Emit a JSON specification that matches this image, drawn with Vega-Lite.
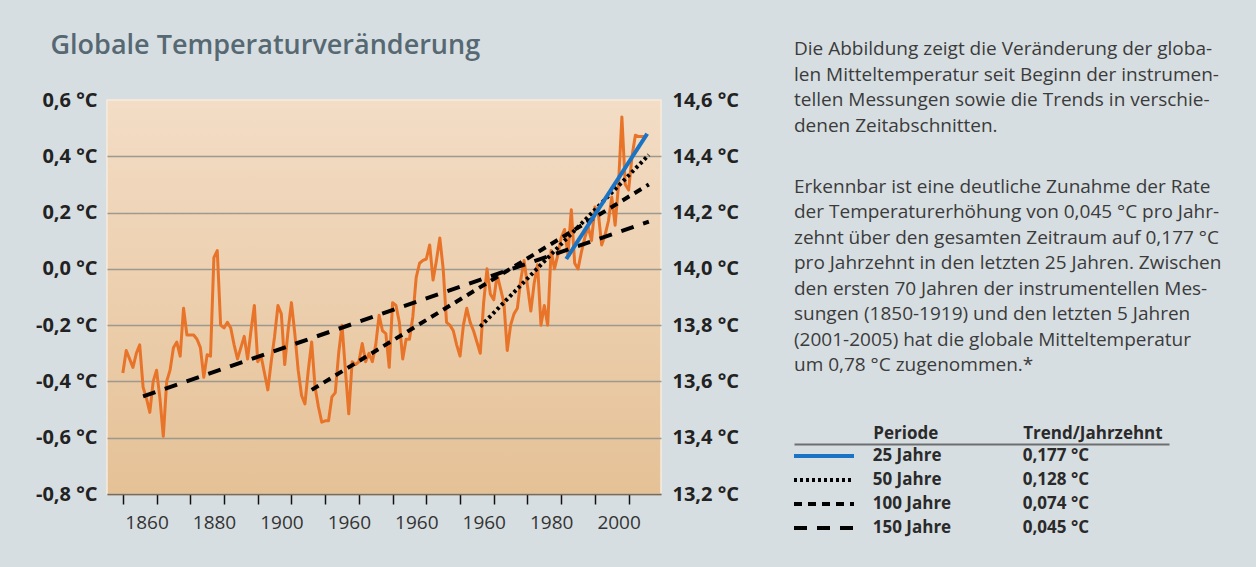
{
  "$schema": "https://vega.github.io/schema/vega-lite/v6.json",
  "background": "#d7dee2",
  "padding": {"left": 34, "top": 31, "right": 92, "bottom": 29},
  "config": {"font": "Open Sans", "view": {"stroke": null}},
  "datasets": {
    "temp": [
      {"year":1850,"value":-0.37},{"year":1851,"value":-0.29},{"year":1852,"value":-0.32},{"year":1853,"value":-0.35},{"year":1854,"value":-0.30},
      {"year":1855,"value":-0.27},{"year":1856,"value":-0.42},{"year":1857,"value":-0.46},{"year":1858,"value":-0.51},{"year":1859,"value":-0.40},
      {"year":1860,"value":-0.36},{"year":1861,"value":-0.46},{"year":1862,"value":-0.595},{"year":1863,"value":-0.40},{"year":1864,"value":-0.36},
      {"year":1865,"value":-0.28},{"year":1866,"value":-0.26},{"year":1867,"value":-0.31},{"year":1868,"value":-0.14},{"year":1869,"value":-0.235},
      {"year":1870,"value":-0.235},{"year":1871,"value":-0.235},{"year":1872,"value":-0.25},{"year":1873,"value":-0.28},{"year":1874,"value":-0.385},
      {"year":1875,"value":-0.305},{"year":1876,"value":-0.31},{"year":1877,"value":0.04},{"year":1878,"value":0.065},{"year":1879,"value":-0.20},
      {"year":1880,"value":-0.21},{"year":1881,"value":-0.19},{"year":1882,"value":-0.21},{"year":1883,"value":-0.27},{"year":1884,"value":-0.32},
      {"year":1885,"value":-0.28},{"year":1886,"value":-0.24},{"year":1887,"value":-0.32},{"year":1888,"value":-0.22},{"year":1889,"value":-0.13},
      {"year":1890,"value":-0.33},{"year":1891,"value":-0.31},{"year":1892,"value":-0.37},{"year":1893,"value":-0.43},{"year":1894,"value":-0.33},
      {"year":1895,"value":-0.24},{"year":1896,"value":-0.13},{"year":1897,"value":-0.16},{"year":1898,"value":-0.34},{"year":1899,"value":-0.22},
      {"year":1900,"value":-0.12},{"year":1901,"value":-0.23},{"year":1902,"value":-0.36},{"year":1903,"value":-0.45},{"year":1904,"value":-0.48},
      {"year":1905,"value":-0.36},{"year":1906,"value":-0.26},{"year":1907,"value":-0.42},{"year":1908,"value":-0.49},{"year":1909,"value":-0.545},
      {"year":1910,"value":-0.54},{"year":1911,"value":-0.54},{"year":1912,"value":-0.455},{"year":1913,"value":-0.44},{"year":1914,"value":-0.30},
      {"year":1915,"value":-0.20},{"year":1916,"value":-0.36},{"year":1917,"value":-0.515},{"year":1918,"value":-0.33},{"year":1919,"value":-0.34},
      {"year":1920,"value":-0.33},{"year":1921,"value":-0.265},{"year":1922,"value":-0.33},{"year":1923,"value":-0.30},{"year":1924,"value":-0.33},
      {"year":1925,"value":-0.27},{"year":1926,"value":-0.165},{"year":1927,"value":-0.22},{"year":1928,"value":-0.23},{"year":1929,"value":-0.35},
      {"year":1930,"value":-0.12},{"year":1931,"value":-0.13},{"year":1932,"value":-0.19},{"year":1933,"value":-0.32},{"year":1934,"value":-0.25},
      {"year":1935,"value":-0.25},{"year":1936,"value":-0.17},{"year":1937,"value":-0.03},{"year":1938,"value":0.02},{"year":1939,"value":0.03},
      {"year":1940,"value":0.035},{"year":1941,"value":0.085},{"year":1942,"value":-0.04},{"year":1943,"value":0.03},{"year":1944,"value":0.11},
      {"year":1945,"value":0.00},{"year":1946,"value":-0.19},{"year":1947,"value":-0.20},{"year":1948,"value":-0.22},{"year":1949,"value":-0.27},
      {"year":1950,"value":-0.31},{"year":1951,"value":-0.20},{"year":1952,"value":-0.14},{"year":1953,"value":-0.19},{"year":1954,"value":-0.22},
      {"year":1955,"value":-0.26},{"year":1956,"value":-0.30},{"year":1957,"value":-0.12},{"year":1958,"value":0.00},{"year":1959,"value":-0.09},
      {"year":1960,"value":-0.11},{"year":1961,"value":-0.02},{"year":1962,"value":-0.07},{"year":1963,"value":-0.12},{"year":1964,"value":-0.29},
      {"year":1965,"value":-0.20},{"year":1966,"value":-0.16},{"year":1967,"value":-0.14},{"year":1968,"value":-0.04},{"year":1969,"value":0.03},
      {"year":1970,"value":-0.06},{"year":1971,"value":-0.15},{"year":1972,"value":-0.05},{"year":1973,"value":0.015},{"year":1974,"value":-0.20},
      {"year":1975,"value":-0.13},{"year":1976,"value":-0.20},{"year":1977,"value":0.065},{"year":1978,"value":0.00},{"year":1979,"value":0.05},
      {"year":1980,"value":0.11},{"year":1981,"value":0.14},{"year":1982,"value":0.05},{"year":1983,"value":0.21},{"year":1984,"value":0.02},
      {"year":1985,"value":0.00},{"year":1986,"value":0.06},{"year":1987,"value":0.11},{"year":1988,"value":0.15},{"year":1989,"value":0.10},
      {"year":1990,"value":0.22},{"year":1991,"value":0.20},{"year":1992,"value":0.085},{"year":1993,"value":0.12},{"year":1994,"value":0.17},
      {"year":1995,"value":0.255},{"year":1996,"value":0.155},{"year":1997,"value":0.30},{"year":1998,"value":0.54},{"year":1999,"value":0.30},
      {"year":2000,"value":0.28},{"year":2001,"value":0.40},{"year":2002,"value":0.475},{"year":2003,"value":0.47},{"year":2004,"value":0.47},
      {"year":2005,"value":0.47}
    ],
    "trends": [
      {"periode":"150 Jahre","year":1856,"value":-0.453},{"periode":"150 Jahre","year":2006,"value":0.168},
      {"periode":"100 Jahre","year":1906,"value":-0.43},{"periode":"100 Jahre","year":2006,"value":0.30},
      {"periode":"50 Jahre","year":1956,"value":-0.205},{"periode":"50 Jahre","year":2006,"value":0.405},
      {"periode":"25 Jahre","year":1981.5,"value":0.035},{"periode":"25 Jahre","year":2005.5,"value":0.48}
    ],
    "legend": [
      {"periode":"25 Jahre","trend":"0,177 °C"},
      {"periode":"50 Jahre","trend":"0,128 °C"},
      {"periode":"100 Jahre","trend":"0,074 °C"},
      {"periode":"150 Jahre","trend":"0,045 °C"}
    ]
  },
  "spacing": 52,
  "hconcat": [
    {
      "width": 554,
      "height": 394,
      "title": {"text": "Globale Temperaturveränderung", "anchor": "start", "frame": "bounds", "dx": 15, "fontSize": 27, "fontWeight": 600, "color": "#566872", "font": "Open Sans", "offset": 30},
      "view": {"fill": {"gradient": "linear", "x1": 0, "y1": 0, "x2": 0, "y2": 1, "stops": [{"offset": 0, "color": "#f3ddc6"}, {"offset": 1, "color": "#e5c196"}]}, "stroke": "#f6ebdd", "strokeWidth": 1.5},
      "resolve": {"axis": {"y": "independent"}},
      "encoding": {
        "x": {"field": "year", "type": "quantitative",
          "scale": {"domain": [1845.3, 2009.6], "nice": false, "zero": false},
          "axis": {"title": null, "values": [1850,1860,1870,1880,1890,1900,1910,1920,1930,1940,1950,1960,1970,1980,1990,2000],
            "labelExpr": "datum.value % 20 == 0 ? ((datum.value == 1920 || datum.value == 1940) ? '1960' : '' + datum.value) : ''",
            "grid": false, "tickColor": "#111111", "tickWidth": 1.5, "tickSize": 10, "labelPadding": 9, "labelOffset": -10,
            "labelFontSize": 19, "labelColor": "#333333", "labelFont": "Open Sans", "domainColor": "#7d6a55", "domainWidth": 1.5, "zindex": 1, "labelOverlap": false, "labelFlush": false}}
      },
      "layer": [
        {
          "data": {"values": [{}]},
          "mark": {"type": "rect", "color": "#ffffff", "clip": false},
          "encoding": {
            "x": {"datum": 1845.3, "type": "quantitative"},
            "x2": {"datum": 2009.6},
            "y": {"datum": -0.8, "type": "quantitative", "axis": null},
            "y2": {"datum": -0.84}
          }
        },
        {
          "data": {"name": "temp"},
          "mark": {"type": "line", "color": "#e8742a", "strokeWidth": 3, "strokeJoin": "round"},
          "encoding": {
            "y": {"field": "value", "type": "quantitative",
              "scale": {"domain": [-0.8, 0.6], "nice": false, "zero": false},
              "axis": {"orient": "left", "title": null, "values": [-0.8,-0.6,-0.4,-0.2,0,0.2,0.4,0.6],
                "labelExpr": "(datum.value < -0.001 ? '-' : '') + replace(format(abs(datum.value), '.1f'), '.', ',') + ' °C'",
                "ticks": false, "domain": false, "labelPadding": 10, "labelFontSize": 20, "labelFontWeight": "bold", "labelColor": "#222222",
                "grid": true, "gridColor": {"condition": {"test": "datum.value > 0.55", "value": "transparent"}, "value": "#9d998f"}, "gridWidth": 1.5}}
          }
        },
        {
          "data": {"name": "trends"},
          "mark": {"type": "line", "strokeWidth": 4},
          "encoding": {
            "y": {"field": "value", "type": "quantitative",
              "axis": {"orient": "right", "title": null, "values": [-0.8,-0.6,-0.4,-0.2,0,0.2,0.4,0.6],
                "labelExpr": "replace(format(datum.value + 14, '.1f'), '.', ',') + ' °C'",
                "ticks": false, "domain": false, "labelPadding": 11, "labelFontSize": 20, "labelFontWeight": "bold", "labelColor": "#222222", "grid": false}},
            "detail": {"field": "periode"},
            "color": {"field": "periode", "type": "nominal", "legend": null,
              "scale": {"domain": ["25 Jahre", "50 Jahre", "100 Jahre", "150 Jahre"], "range": ["#1b74c3", "#000000", "#000000", "#000000"]}},
            "strokeDash": {"field": "periode", "type": "nominal", "legend": null,
              "scale": {"domain": ["25 Jahre", "50 Jahre", "100 Jahre", "150 Jahre"], "range": [[1, 0], [3, 3], [8, 6], [13, 10]]}}
          }
        }
      ]
    },
    {
      "width": 375,
      "height": 440,
      "data": {"name": "legend"},
      "title": {
        "text": ["Die Abbildung zeigt die Veränderung der globa-", "len Mitteltemperatur seit Beginn der instrumen-", "tellen Messungen sowie die Trends in verschie-", "denen Zeitabschnitten."],
        "subtitle": ["Erkennbar ist eine deutliche Zunahme der Rate", "der Temperaturerhöhung von 0,045 °C pro Jahr-", "zehnt über den gesamten Zeitraum auf 0,177 °C", "pro Jahrzehnt in den letzten 25 Jahren. Zwischen", "den ersten 70 Jahren der instrumentellen Mes-", "sungen (1850-1919) und den letzten 5 Jahren", "(2001-2005) hat die globale Mitteltemperatur", "um 0,78 °C zugenommen.*"],
        "anchor": "start", "frame": "group", "font": "Open Sans", "fontSize": 19, "fontWeight": "normal", "color": "#3b3b3b", "lineHeight": 25.5,
        "subtitleFont": "Open Sans", "subtitleFontSize": 19, "subtitleColor": "#3b3b3b", "subtitleLineHeight": 25.5, "subtitlePadding": 42, "offset": -275
      },
      "encoding": {
        "y": {"field": "periode", "type": "ordinal", "sort": null, "axis": null, "scale": {"paddingInner": 0, "paddingOuter": 0, "range": [344, 440]}}
      },
      "layer": [
        {
          "mark": {"type": "rule", "strokeWidth": 4},
          "encoding": {
            "x": {"datum": 0, "type": "quantitative", "scale": {"domain": [0, 100], "nice": false},
              "axis": {"orient": "top", "offset": -344, "title": null, "values": [21, 61], "labelExpr": "datum.value < 40 ? 'Periode' : 'Trend/Jahrzehnt'",
                "labelAlign": "left", "labelBaseline": "alphabetic", "ticks": false, "tickSize": 0, "labelPadding": 6,
                "labelFontWeight": "bold", "labelFontSize": 17, "labelColor": "#2a2a2a", "domainColor": "#6e6e6e", "domainWidth": 2,
                "grid": false, "labelFlush": false, "labelOverlap": false}},
            "x2": {"datum": 16},
            "color": {"field": "periode", "type": "nominal", "legend": null,
              "scale": {"domain": ["25 Jahre", "50 Jahre", "100 Jahre", "150 Jahre"], "range": ["#1b74c3", "#000000", "#000000", "#000000"]}},
            "strokeDash": {"field": "periode", "type": "nominal", "legend": null,
              "scale": {"domain": ["25 Jahre", "50 Jahre", "100 Jahre", "150 Jahre"], "range": [[1, 0], [3, 3], [8, 6], [13, 10]]}}
          }
        },
        {
          "mark": {"type": "text", "align": "left", "fontWeight": "bold", "fontSize": 17, "color": "#2a2a2a"},
          "encoding": {"x": {"datum": 21, "type": "quantitative"}, "text": {"field": "periode"}}
        },
        {
          "mark": {"type": "text", "align": "left", "fontWeight": "bold", "fontSize": 17, "color": "#2a2a2a"},
          "encoding": {"x": {"datum": 61, "type": "quantitative"}, "text": {"field": "trend"}}
        }
      ]
    }
  ]
}
